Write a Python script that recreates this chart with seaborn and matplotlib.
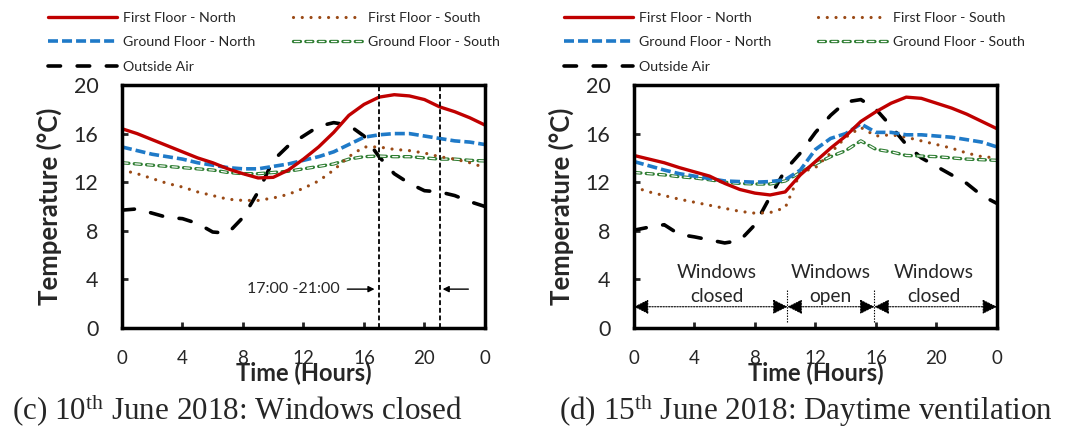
import matplotlib
matplotlib.use("Agg")
import matplotlib.pyplot as plt
import seaborn as sns
import numpy as np
import pandas as pd

# ---------------- data ----------------
hours = list(range(25))

# (c) 10th June 2018: windows closed
c_ffn = [16.4, 16.0, 15.5, 15.0, 14.5, 14.0, 13.6, 13.1, 12.7, 12.35, 12.4, 13.0, 13.9,
         14.9, 16.1, 17.5, 18.4, 19.0, 19.2, 19.1, 18.8, 18.2, 17.8, 17.3, 16.7]
c_ffs = [13.0, 12.7, 12.3, 11.9, 11.6, 11.2, 10.9, 10.6, 10.5, 10.5, 10.7, 11.0, 11.5,
         12.1, 13.0, 14.1, 14.9, 14.9, 14.7, 14.6, 14.4, 14.1, 13.9, 13.6, 13.2]
c_gfn = [14.9, 14.6, 14.3, 14.1, 13.9, 13.6, 13.4, 13.2, 13.1, 13.1, 13.3, 13.5, 13.8,
         14.1, 14.5, 15.1, 15.7, 15.9, 16.0, 16.0, 15.8, 15.6, 15.4, 15.3, 15.1]
c_gfs = [13.6, 13.5, 13.4, 13.3, 13.2, 13.1, 13.0, 12.8, 12.7, 12.7, 12.8, 12.9, 13.1,
         13.3, 13.5, 13.9, 14.1, 14.15, 14.1, 14.1, 14.0, 13.9, 13.9, 13.8, 13.75]
c_out = [9.7, 9.8, 9.45, 9.1, 9.0, 8.6, 7.9, 7.8, 9.1, 11.2, 13.8, 15.0, 15.8,
         16.6, 16.9, 16.7, 15.8, 14.1, 12.7, 11.9, 11.3, 11.2, 10.9, 10.4, 10.0]

# (d) 15th June 2018: daytime ventilation
d_ffn = [14.2, 13.9, 13.6, 13.2, 12.85, 12.5, 11.9, 11.4, 11.1, 10.95, 11.2, 12.6, 13.7,
         14.8, 15.8, 17.0, 17.8, 18.5, 19.0, 18.9, 18.5, 18.1, 17.6, 17.0, 16.4]
d_ffs = [11.6, 11.2, 10.9, 10.6, 10.35, 10.1, 9.85, 9.6, 9.45, 9.5, 9.9, 12.8, 13.2,
         14.4, 15.7, 16.5, 15.8, 15.9, 15.7, 15.4, 15.1, 14.8, 14.4, 14.1, 14.0]
d_gfn = [13.7, 13.35, 13.0, 12.7, 12.5, 12.3, 12.1, 12.05, 12.0, 12.05, 12.2, 13.0, 14.7,
         15.6, 16.0, 16.8, 16.1, 16.1, 15.9, 15.9, 15.8, 15.7, 15.5, 15.3, 14.9]
d_gfs = [12.8, 12.7, 12.6, 12.45, 12.35, 12.2, 12.0, 11.9, 11.85, 11.85, 12.1, 12.8, 13.5,
         14.1, 14.6, 15.4, 14.7, 14.5, 14.2, 14.15, 14.1, 14.0, 13.9, 13.85, 13.8]
d_out = [8.05, 8.3, 8.5, 7.7, 7.5, 7.25, 7.0, 7.2, 8.5, 10.8, 13.0, 14.4, 16.1,
         17.5, 18.6, 18.8, 18.0, 16.6, 15.1, 14.0, 13.3, 12.6, 11.9, 10.9, 10.25]

series_labels = ["First Floor - North", "First Floor - South", "Ground Floor - North",
                 "Ground Floor - South", "Outside Air"]
xtick_vals = [0, 4, 8, 12, 16, 20, 24]
xtick_labels = ["0", "4", "8", "12", "16", "20", "0"]
ytick_vals = [0, 4, 8, 12, 16, 20]

captions = ["(c) 10$^{\\mathrm{th}}$ June 2018: Windows closed",
            "(d) 15$^{\\mathrm{th}}$ June 2018: Daytime ventilation"]

closed_window = [17, 21]          # panel (c) marked period
vent_window = [10.15, 15.9]       # panel (d) windows open period
period_texts = ["Windows\nclosed", "Windows\nopen", "Windows\nclosed"]

# ---------------- style ----------------
sns.set_style("white")
plt.rcParams["font.family"] = ["Lato", "DejaVu Sans"]
plt.rcParams["lines.scale_dashes"] = False
plt.rcParams["mathtext.fontset"] = "custom"
plt.rcParams["mathtext.rm"] = "Liberation Serif"
plt.rcParams["mathtext.it"] = "Liberation Serif:italic"
plt.rcParams["mathtext.bf"] = "Liberation Serif:bold"

RED = "#C00000"
BROWN = "#9A4A16"
BLUE = "#1F7AC8"
GREEN = "#2E7D32"

fig = plt.figure(figsize=(10.68, 4.29), dpi=100)
axes = [fig.add_axes([0.1142, 0.2354, 0.3399, 0.5665]),
        fig.add_axes([0.5936, 0.2354, 0.3399, 0.5665])]

panels = [(c_ffn, c_ffs, c_gfn, c_gfs, c_out), (d_ffn, d_ffs, d_gfn, d_gfs, d_out)]
legend_x = [0.0449, 0.5281]
legend_colspace = [2.65, 3.3]


def draw_panel(ax, data):
    ffn, ffs, gfn, gfs, out = data
    df = pd.DataFrame({"h": hours, "ffn": ffn, "ffs": ffs, "gfn": gfn, "gfs": gfs, "out": out})
    # outside air
    sns.lineplot(data=df, x="h", y="out", ax=ax, color="black", lw=2.6,
                 linestyle=(0, (9, 12)), dash_capstyle="round", legend=False)
    h_out = ax.lines[-1]
    # ground floor south (hollow green dashes)
    sns.lineplot(data=df, x="h", y="gfs", ax=ax, color=GREEN, lw=2.4,
                 linestyle=(0, (5, 3.9)), dash_capstyle="round", legend=False)
    h_gfs_a = ax.lines[-1]
    sns.lineplot(data=df, x="h", y="gfs", ax=ax, color="white", lw=0.9,
                 linestyle=(8.25, (3.7, 5.2)), dash_capstyle="round", legend=False)
    h_gfs_b = ax.lines[-1]
    # first floor south (dots)
    sns.lineplot(data=df, x="h", y="ffs", ax=ax, color=BROWN, lw=2.3,
                 linestyle=(0, (0.01, 6.3)), dash_capstyle="round", legend=False)
    h_ffs = ax.lines[-1]
    # ground floor north (blue dashes)
    sns.lineplot(data=df, x="h", y="gfn", ax=ax, color=BLUE, lw=2.6,
                 linestyle=(0, (7.2, 2.9)), legend=False)
    h_gfn = ax.lines[-1]
    # first floor north (solid red)
    sns.lineplot(data=df, x="h", y="ffn", ax=ax, color=RED, lw=2.4, legend=False)
    h_ffn = ax.lines[-1]

    ax.set_xlim(0, 24)
    ax.set_ylim(0, 20)
    ax.set_xticks(xtick_vals)
    ax.set_xticklabels(xtick_labels)
    ax.set_yticks(ytick_vals)
    ax.tick_params(axis="x", direction="in", length=4, width=2, pad=16,
                   labelsize=13.5, top=False, bottom=True)
    ax.tick_params(axis="y", direction="in", length=4, width=2, pad=17,
                   labelsize=15.5, left=True, right=False)
    for sp in ax.spines.values():
        sp.set_linewidth(2.5)
        sp.set_color("black")
        sp.set_visible(True)
    ax.set_xlabel("Time (Hours)", fontsize=17, fontweight="bold", labelpad=-4)
    ax.set_ylabel("Temperature (°C)", fontsize=18.5, fontweight="bold", labelpad=8)
    ax.grid(False)
    handles = [h_ffn, h_gfn, h_out, h_ffs, (h_gfs_a, h_gfs_b)]
    labels = [series_labels[0], series_labels[2], series_labels[4],
              series_labels[1], series_labels[3]]
    return handles, labels


for i, ax in enumerate(axes):
    handles, labels = draw_panel(ax, panels[i])
    leg = ax.legend(handles, labels, loc="upper left", ncol=2,
                    bbox_to_anchor=(legend_x[i], 0.973), bbox_transform=fig.transFigure,
                    frameon=False, fontsize=10.2, handlelength=4.87, handletextpad=0.42,
                    columnspacing=legend_colspace[i], labelspacing=0.88, borderpad=0,
                    borderaxespad=0)
    fig.text(0.0112 if i == 0 else 0.5234, 0.021, captions[i], fontsize=22.4,
             family="Liberation Serif", ha="left", va="baseline")

# panel (c) annotation
axc = axes[0]
for t in closed_window:
    axc.axvline(t, color="black", lw=1.3, linestyle=(0, (3.5, 2)))
axc.text(closed_window[0] - 2.6, 3.2, "17:00 -21:00", fontsize=11.5, ha="right", va="center")
axc.annotate("", xy=(closed_window[0] - 0.3, 3.2), xytext=(closed_window[0] - 2.1, 3.2),
             arrowprops=dict(arrowstyle="-|>", color="black", lw=1, shrinkA=0, shrinkB=0,
                             mutation_scale=9))
axc.annotate("", xy=(closed_window[1] + 0.2, 3.2), xytext=(closed_window[1] + 1.9, 3.2),
             arrowprops=dict(arrowstyle="-|>", color="black", lw=1, shrinkA=0, shrinkB=0,
                             mutation_scale=9))

# panel (d) annotation
axd = axes[1]
bounds = [0, vent_window[0], vent_window[1], 24]
for t in vent_window:
    axd.plot([t, t], [0.5, 3.1], color="black", lw=0.8, linestyle=(0, (1, 1)))
for k in range(3):
    axd.annotate("", xy=(bounds[k + 1], 1.75), xytext=(bounds[k], 1.75),
                 arrowprops=dict(arrowstyle="<|-|>,head_length=0.9,head_width=0.45",
                                 color="black", lw=0.8, linestyle=(0, (1, 1)),
                                 shrinkA=0, shrinkB=0, mutation_scale=10))
centers = [5.5, 13.0, 19.8]
for k in range(3):
    axd.text(centers[k], 3.6, period_texts[k], fontsize=13.8, ha="center", va="center",
             linespacing=1.5)

fig.savefig("out.png", dpi=100)
